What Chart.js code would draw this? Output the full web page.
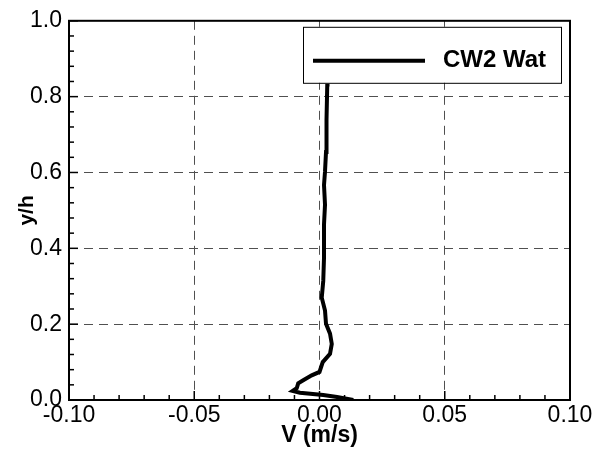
<!DOCTYPE html>
<html>
<head>
<meta charset="utf-8">
<script src="https://cdn.jsdelivr.net/npm/chart.js@4/dist/chart.umd.min.js"></script>
<style>
  html, body { margin: 0; padding: 0; background: #fff; }
  #wrap { width: 596px; height: 455px; }
</style>
</head>
<body>
<div id="wrap"><canvas id="c" width="596" height="455"></canvas></div>
<script>
// ── Data ────────────────────────────────────────────────────
const seriesName = 'CW2 Wat';
const vel = [0.0135, 0.0070, 0.0015, -0.0078, -0.0107, -0.0091, -0.0085, -0.0065, -0.0031, 0.0000,
             0.0013, 0.0042, 0.0049, 0.0042, 0.0026, 0.0022, 0.0009, 0.0015, 0.0018, 0.0018,
             0.0018, 0.0022, 0.0018, 0.0022, 0.0026, 0.0028, 0.0031, 0.0032];
const yh  = [0.000, 0.008, 0.013, 0.019, 0.024, 0.031, 0.044, 0.052, 0.065, 0.074,
             0.100, 0.122, 0.148, 0.175, 0.201, 0.236, 0.270, 0.314, 0.375, 0.419,
             0.463, 0.515, 0.567, 0.602, 0.654, 0.740, 0.832, 0.860];
const xRange = [-0.1, 0.1], xMajor = 0.05, xMinor = 0.01;
const yRange = [0, 1.0],   yMajor = 0.2,  yMinor = 0.04;

const FONT = '"Liberation Sans", Arial, Helvetica, sans-serif';
const GRID = '#505050';

// legend box sits in the top-right corner of the plot area
function legendRect(a) {
  return { x: a.right - 267, y: a.top + 6, w: 258, h: 56 };
}

// ── Frame, inside ticks, legend ─────────────────────────────
const framePlugin = {
  id: 'frame',
  beforeDatasetsDraw(chart) {
    // keep the curve out of the legend box
    const { ctx, chartArea: a, width, height } = chart;
    const L = legendRect(a);
    ctx.save();
    ctx.beginPath();
    ctx.rect(0, 0, width, height);
    ctx.rect(L.x, L.y, L.w + 1, L.h + 1);
    ctx.clip('evenodd');
  },
  afterDatasetsDraw(chart) {
    const { ctx, chartArea: a, scales: { x, y } } = chart;
    ctx.restore();
    ctx.save();
    ctx.strokeStyle = '#000';

    const tick = (px, horizontal, len) => {
      ctx.beginPath();
      if (horizontal) { ctx.moveTo(a.left, px); ctx.lineTo(a.left + len, px); }
      else { ctx.moveTo(px, a.bottom); ctx.lineTo(px, a.bottom - len); }
      ctx.stroke();
    };
    ctx.lineWidth = 1.5;
    for (let i = 0; ; i++) {
      const v = xRange[0] + i * xMinor;
      if (v > xRange[1] + 1e-9) break;
      const major = Math.abs(v / xMajor - Math.round(v / xMajor)) < 1e-6;
      tick(x.getPixelForValue(v), false, major ? 9 : 5);
    }
    for (let i = 0; ; i++) {
      const v = yRange[0] + i * yMinor;
      if (v > yRange[1] + 1e-9) break;
      const major = Math.abs(v / yMajor - Math.round(v / yMajor)) < 1e-6;
      tick(y.getPixelForValue(v), true, major ? 9 : 5);
    }

    ctx.lineWidth = 2;
    ctx.strokeRect(a.left, a.top, a.right - a.left, a.bottom - a.top);

    // legend
    const L = legendRect(a);
    ctx.fillStyle = '#fff';
    ctx.fillRect(L.x, L.y, L.w, L.h);
    ctx.lineWidth = 1;
    ctx.strokeRect(L.x + 0.5, L.y + 0.5, L.w, L.h);
    ctx.lineWidth = 4;
    ctx.beginPath();
    ctx.moveTo(L.x + 10, L.y + 34);
    ctx.lineTo(L.x + 122, L.y + 34);
    ctx.stroke();
    ctx.fillStyle = '#000';
    ctx.font = 'bold 24px ' + FONT;
    ctx.textBaseline = 'middle';
    ctx.textAlign = 'left';
    ctx.fillText(seriesName, L.x + 140, L.y + 34);
    ctx.restore();
  }
};

// ── Chart ───────────────────────────────────────────────────
new Chart(document.getElementById('c'), {
  type: 'scatter',
  data: {
    datasets: [{
      label: seriesName,
      data: vel.map((v, i) => ({ x: v, y: yh[i] })),
      showLine: true,
      borderColor: '#000',
      backgroundColor: '#000',
      borderWidth: 4,
      pointRadius: 0,
      tension: 0,
    }]
  },
  options: {
    responsive: false,
    animation: false,
    layout: { padding: { left: 0, right: 26, top: 19, bottom: 0 } },
    plugins: { legend: { display: false }, tooltip: { enabled: false } },
    scales: {
      x: {
        type: 'linear', min: xRange[0], max: xRange[1],
        afterFit: s => { s.height = 55; },
        ticks: {
          stepSize: xMajor, color: '#000', padding: 2,
          font: { family: FONT, size: 23 },
          callback: v => (Math.abs(v) < 1e-9 ? 0 : v).toFixed(2)
        },
        grid: { color: GRID, lineWidth: 1, drawTicks: false },
        border: { display: false, dash: [9, 6] },
        title: {
          display: true, text: 'V (m/s)', color: '#000',
          font: { family: FONT, size: 23, weight: 'bold' },
          padding: { top: 0, bottom: 6 }
        }
      },
      y: {
        type: 'linear', min: yRange[0], max: yRange[1],
        afterFit: s => { s.width = 69; },
        ticks: {
          stepSize: yMajor, color: '#000', padding: 7,
          font: { family: FONT, size: 23 },
          callback: v => v.toFixed(1)
        },
        grid: { color: GRID, lineWidth: 1, drawTicks: false },
        border: { display: false, dash: [9, 6] },
        title: {
          display: true, text: 'y/h', color: '#000',
          font: { family: FONT, size: 21, weight: 'bold' },
          padding: { top: 15, bottom: 0 }
        }
      }
    }
  },
  plugins: [framePlugin]
});
</script>
</body>
</html>
